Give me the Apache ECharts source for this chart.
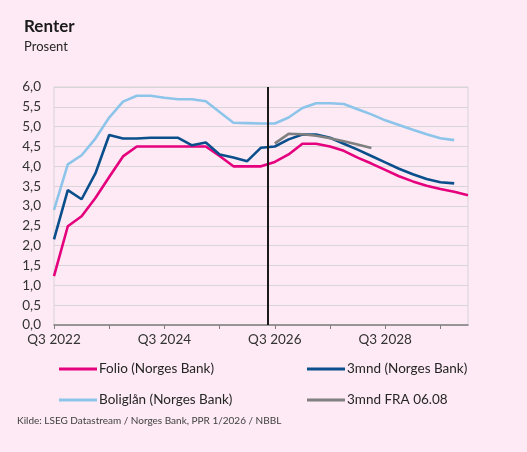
<!DOCTYPE html>
<html lang="no">
<head>
    <meta charset="UTF-8">
    <title>Renter</title>
    <script type="text/javascript" src="https://cdn.jsdelivr.net/npm/echarts@6/dist/echarts.min.js"></script>
    <style>
        html, body { margin: 0; padding: 0; background: #fdeaf4; }
        #main { width: 527px; height: 452px; }
    </style>
</head>
<body>
<div id="main"></div>
<script type="text/javascript">
    // kvartaler, Q3 2022 - Q1 2030
    var quarters = ['Q3 2022', 'Q4 2022', 'Q1 2023', 'Q2 2023', 'Q3 2023', 'Q4 2023', 'Q1 2024', 'Q2 2024',
        'Q3 2024', 'Q4 2024', 'Q1 2025', 'Q2 2025', 'Q3 2025', 'Q4 2025', 'Q1 2026', 'Q2 2026',
        'Q3 2026', 'Q4 2026', 'Q1 2027', 'Q2 2027', 'Q3 2027', 'Q4 2027', 'Q1 2028', 'Q2 2028',
        'Q3 2028', 'Q4 2028', 'Q1 2029', 'Q2 2029', 'Q3 2029', 'Q4 2029', 'Q1 2030'];

    var folio = [1.23, 2.49, 2.74, 3.20, 3.73, 4.25, 4.50, 4.50, 4.50, 4.50, 4.50, 4.50, 4.26, 4.00, 4.00, 4.00,
        4.11, 4.30, 4.57, 4.57, 4.50, 4.39, 4.22, 4.07, 3.91, 3.75, 3.62, 3.51, 3.43, 3.36, 3.27];
    var tremnd = [2.16, 3.40, 3.17, 3.82, 4.79, 4.70, 4.70, 4.72, 4.72, 4.72, 4.53, 4.60, 4.30, 4.22, 4.13, 4.47,
        4.50, 4.68, 4.80, 4.80, 4.72, 4.57, 4.42, 4.26, 4.10, 3.94, 3.80, 3.68, 3.60, 3.57, null];
    var boliglan = [2.90, 4.05, 4.28, 4.70, 5.23, 5.63, 5.78, 5.78, 5.73, 5.69, 5.69, 5.64, 5.37, 5.10, 5.09, 5.08,
        5.08, 5.23, 5.47, 5.59, 5.59, 5.57, 5.44, 5.31, 5.16, 5.04, 4.92, 4.81, 4.71, 4.66, null];
    var fra = [null, null, null, null, null, null, null, null, null, null, null, null, null, null, null, null,
        4.58, 4.82, 4.81, 4.77, 4.71, 4.63, 4.55, 4.46, null, null, null, null, null, null, null];

    var tickIdx = [0, 4, 8, 12, 16, 20, 24, 28];
    var labelIdx = [0, 8, 16, 24];
    var separatorAt = 15.5; // skille mellom historikk og prognose

    function pairs(arr) {
        return arr.map(function (v, i) { return [i, v]; });
    }

    var fontFam = 'Lato, "Open Sans", sans-serif';
    var chart = echarts.init(document.getElementById('main'), null, {renderer: 'canvas'});

    function legendAt(name, left, top) {
        return {
            data: [name],
            left: left,
            top: top,
            icon: 'rect',
            itemWidth: 38,
            itemHeight: 3,
            selectedMode: false,
            textStyle: {fontFamily: fontFam, fontSize: 13.5, color: '#262626', padding: [0, 0, 0, -3]}
        };
    }

    chart.setOption({
        backgroundColor: '#fdeaf4',
        animation: false,
        title: [{
            text: 'Renter',
            left: 19,
            top: 13,
            textStyle: {fontFamily: fontFam, fontSize: 17, fontWeight: 'bold', color: '#1a1a1a'}
        }, {
            text: 'Prosent',
            left: 19,
            top: 35,
            textStyle: {fontFamily: fontFam, fontSize: 13, fontWeight: 'normal', color: '#262626'}
        }],
        legend: [
            legendAt('Folio (Norges Bank)', 54, 357),
            legendAt('3mnd (Norges Bank)', 302, 357),
            legendAt('Boliglån (Norges Bank)', 54, 388),
            legendAt('3mnd FRA 06.08', 302, 388)
        ],
        graphic: [{
            type: 'text',
            left: 17,
            top: 416,
            style: {
                text: 'Kilde: LSEG Datastream / Norges Bank, PPR 1/2026 / NBBL',
                font: '10px ' + fontFam,
                fill: '#404040'
            }
        }],
        grid: {
            left: 54,
            right: 59,
            top: 87,
            bottom: 127,
            show: true,
            borderColor: '#d9d4d8',
            borderWidth: 1,
            backgroundColor: 'transparent'
        },
        xAxis: {
            type: 'value',
            min: 0,
            max: 30,
            splitLine: {show: false},
            axisLine: {show: true, onZero: false, lineStyle: {color: '#7f7f7f', width: 1.5}},
            axisTick: {show: true, length: 4, customValues: tickIdx, lineStyle: {color: '#7f7f7f', width: 1}},
            axisLabel: {
                customValues: labelIdx,
                margin: 8,
                fontFamily: fontFam,
                fontSize: 13.5,
                color: '#333',
                formatter: function (v) { return quarters[v]; }
            }
        },
        yAxis: {
            type: 'value',
            min: 0,
            max: 6,
            interval: 0.5,
            axisLine: {show: false},
            axisTick: {show: false},
            splitLine: {lineStyle: {color: '#d9d4d8', width: 1}},
            axisLabel: {
                margin: 13,
                fontFamily: fontFam,
                fontSize: 13.5,
                color: '#333',
                formatter: function (v) { return v.toFixed(1).replace('.', ','); }
            }
        },
        series: [{
            name: 'Folio (Norges Bank)',
            type: 'line',
            data: pairs(folio),
            showSymbol: false,
            color: '#e5007d',
            lineStyle: {width: 2.6},
            markLine: {
                silent: true,
                symbol: 'none',
                label: {show: false},
                lineStyle: {color: '#1a1a1a', width: 2, type: 'solid'},
                data: [{xAxis: separatorAt}]
            }
        }, {
            name: '3mnd (Norges Bank)',
            type: 'line',
            data: pairs(tremnd),
            showSymbol: false,
            color: '#0a4f8c',
            lineStyle: {width: 2.6}
        }, {
            name: 'Boliglån (Norges Bank)',
            type: 'line',
            data: pairs(boliglan),
            showSymbol: false,
            color: '#8dc4ea',
            lineStyle: {width: 2.6}
        }, {
            name: '3mnd FRA 06.08',
            type: 'line',
            data: pairs(fra),
            showSymbol: false,
            color: '#808080',
            lineStyle: {width: 2.6}
        }]
    });
</script>
</body>
</html>
